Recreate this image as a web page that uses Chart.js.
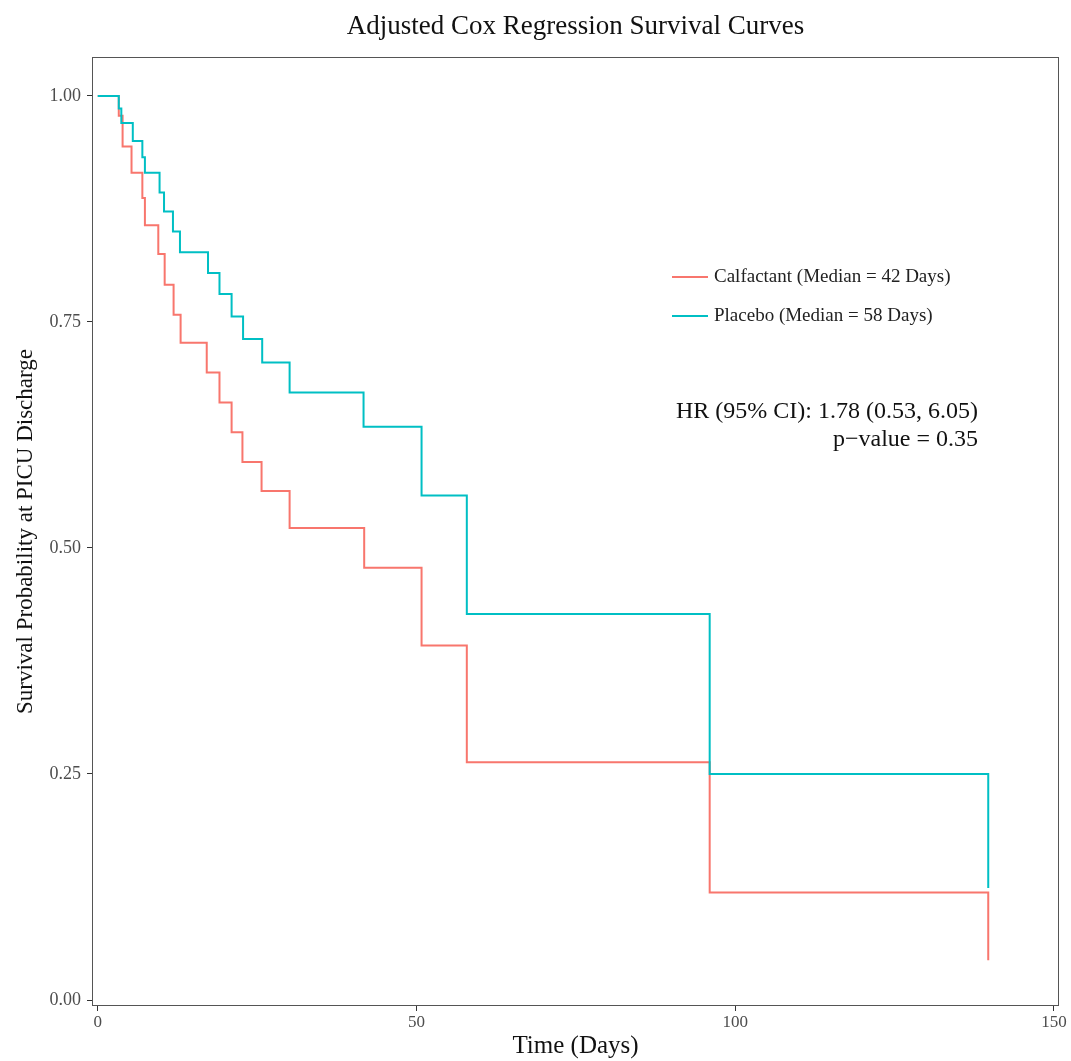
<!DOCTYPE html>
<html>
<head>
<meta charset="utf-8">
<script src="https://cdn.jsdelivr.net/npm/chart.js@4"></script>
<style>
  body { margin: 0; background: #fff; }
  #wrap { width: 1071px; height: 1061px; }
</style>
</head>
<body>
<div id="wrap"><canvas id="km"></canvas></div>
<script>
// survival curves (day of step, survival after step)
const calfDays = [0, 3.3, 3.9, 5.3, 7.0, 7.4, 9.5, 10.5, 11.9, 13.0, 17.1, 19.1, 21.0, 22.7, 25.7, 30.1, 41.8, 50.8, 57.9, 96.0, 139.7];
const calfSurv = [1.0, 0.978, 0.944, 0.915, 0.887, 0.857, 0.825, 0.791, 0.758, 0.727, 0.694, 0.661, 0.628, 0.595, 0.563, 0.522, 0.478, 0.392, 0.263, 0.119, 0.044];

const placDays = [0, 3.3, 3.7, 5.5, 7.0, 7.4, 9.7, 10.4, 11.8, 12.9, 17.3, 19.1, 21.0, 22.8, 25.8, 30.1, 41.7, 50.8, 57.9, 96.0, 139.7];
const placSurv = [1.0, 0.986, 0.970, 0.950, 0.932, 0.915, 0.893, 0.872, 0.850, 0.827, 0.804, 0.781, 0.756, 0.731, 0.705, 0.672, 0.634, 0.558, 0.427, 0.250, 0.124];

const seriesNames = ['Calfactant (Median = 42 Days)', 'Placebo (Median = 58 Days)'];
const xTicks = [0, 50, 100, 150];
const yTicks = [0, 0.25, 0.5, 0.75, 1];
const statLines = ['HR (95% CI): 1.78 (0.53, 6.05)', 'p\u2212value = 0.35'];
const chartTitle = 'Adjusted Cox Regression Survival Curves';

const RED = '#F8766D';
const TEAL = '#00BFC4';
const SERIF = '"Liberation Serif", "Times New Roman", serif';

function toPoints(xs, ys) {
  return xs.map((x, i) => ({ x: x, y: ys[i] }));
}

// title, border box, legend and HR text
const panelExtras = {
  id: 'panelExtras',
  afterDraw(chart) {
    const { ctx, chartArea: a } = chart;
    ctx.save();
    ctx.strokeStyle = '#555';
    ctx.lineWidth = 1;
    ctx.strokeRect(a.left + 0.5, a.top + 0.5, a.right - a.left - 1, a.bottom - a.top - 1);

    ctx.fillStyle = '#111';
    ctx.font = '27px ' + SERIF;
    ctx.textAlign = 'center';
    ctx.textBaseline = 'middle';
    ctx.fillText(chartTitle, (a.left + a.right) / 2, 27);

    // legend
    const cols = [RED, TEAL];
    const rows = [277, 316];
    ctx.font = '19px ' + SERIF;
    ctx.textAlign = 'left';
    seriesNames.forEach((name, i) => {
      ctx.strokeStyle = cols[i];
      ctx.lineWidth = 2;
      ctx.beginPath();
      ctx.moveTo(672, rows[i]);
      ctx.lineTo(708, rows[i]);
      ctx.stroke();
      ctx.fillStyle = '#222';
      ctx.fillText(name, 714, rows[i]);
    });

    // HR annotation
    ctx.font = '24px ' + SERIF;
    ctx.textAlign = 'right';
    ctx.fillStyle = '#111';
    ctx.fillText(statLines[0], 978, 412);
    ctx.fillText(statLines[1], 978, 440);
    ctx.restore();
  }
};

const ctx = document.getElementById('km').getContext('2d');
new Chart(ctx, {
  type: 'line',
  data: {
    datasets: [
      {
        label: seriesNames[0],
        data: toPoints(calfDays, calfSurv),
        borderColor: RED,
        borderWidth: 2,
        stepped: 'before',
        pointRadius: 0,
        fill: false,
        order: 2,
      },
      {
        label: seriesNames[1],
        data: toPoints(placDays, placSurv),
        borderColor: TEAL,
        borderWidth: 2,
        stepped: 'before',
        pointRadius: 0,
        fill: false,
        order: 1,
      },
    ],
  },
  options: {
    responsive: true,
    maintainAspectRatio: false,
    animation: false,
    layout: { padding: { left: 0, right: 12, top: 57, bottom: 0 } },
    plugins: {
      legend: { display: false },
      tooltip: { enabled: false },
      title: { display: false },
    },
    scales: {
      x: {
        type: 'linear',
        min: -0.9,
        max: 150.8,
        afterBuildTicks: (s) => { s.ticks = xTicks.map((v) => ({ value: v })); },
        afterFit: (s) => { s.height = 55; },
        grid: { drawOnChartArea: false, tickLength: 5, color: '#333' },
        border: { display: false },
        ticks: {
          color: '#4d4d4d',
          font: { family: SERIF, size: 17 },
          padding: 1,
          maxRotation: 0,
        },
        title: {
          display: true,
          text: 'Time (Days)',
          color: '#111',
          font: { family: SERIF, size: 25 },
          padding: { top: 0, bottom: 0 },
        },
      },
      y: {
        type: 'linear',
        min: -0.0066,
        max: 1.043,
        afterBuildTicks: (s) => { s.ticks = yTicks.map((v) => ({ value: v })); },
        afterFit: (s) => { s.width = 92; },
        grid: { drawOnChartArea: false, tickLength: 5, color: '#333' },
        border: { display: false },
        ticks: {
          color: '#4d4d4d',
          font: { family: SERIF, size: 18 },
          padding: 6,
          callback: (v) => Number(v).toFixed(2),
        },
        title: {
          display: true,
          text: 'Survival Probability at PICU Discharge',
          color: '#111',
          font: { family: SERIF, size: 23 },
          padding: { top: 12, bottom: 0 },
        },
      },
    },
  },
  plugins: [panelExtras],
});
</script>
</body>
</html>
